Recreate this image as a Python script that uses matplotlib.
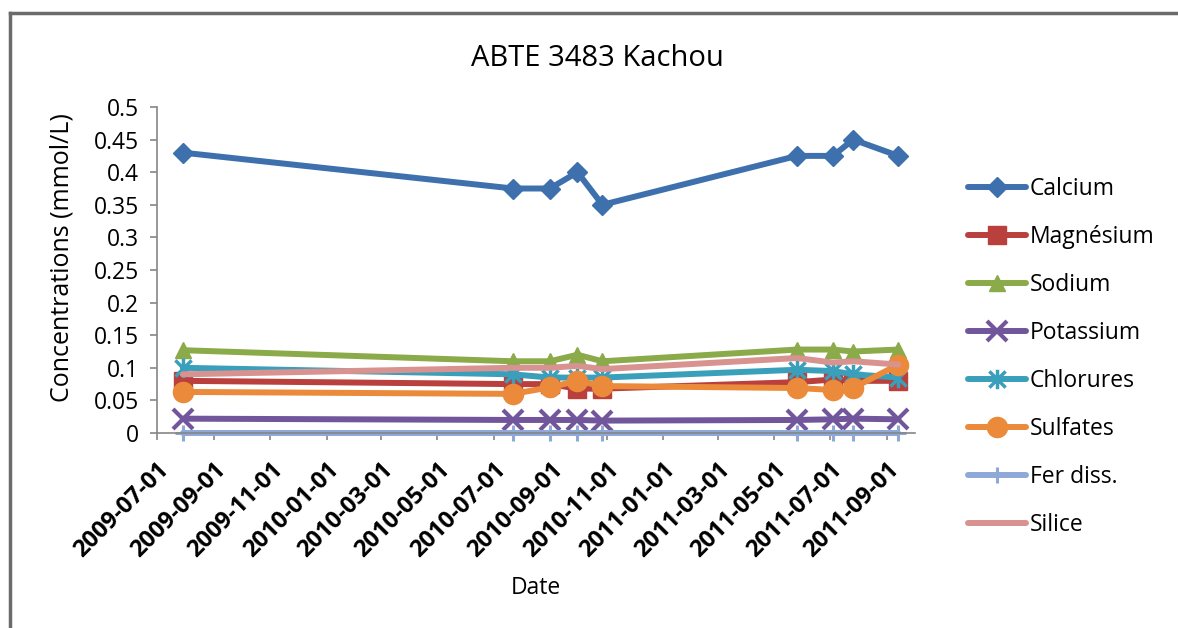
import matplotlib
matplotlib.use("Agg")
import matplotlib.pyplot as plt
from matplotlib.path import Path
import datetime as dt

# ---------------- data ----------------
dates = ["2009-07-29", "2010-07-22", "2010-08-31", "2010-09-30", "2010-10-27",
         "2011-05-26", "2011-07-04", "2011-07-26", "2011-09-13"]
calcium   = [0.430, 0.375, 0.375, 0.400, 0.350, 0.425, 0.425, 0.450, 0.425]
magnesium = [0.080, 0.075, 0.075, 0.068, 0.068, 0.078, 0.082, 0.080, 0.080]
sodium    = [0.127, 0.110, 0.110, 0.120, 0.110, 0.128, 0.128, 0.125, 0.128]
potassium = [0.022, 0.020, 0.020, 0.020, 0.019, 0.020, 0.021, 0.022, 0.021]
chlorures = [0.100, 0.090, 0.085, 0.085, 0.085, 0.097, 0.095, 0.090, 0.085]
sulfates  = [0.063, 0.060, 0.070, 0.080, 0.072, 0.069, 0.066, 0.069, 0.105]
fer_diss  = [0.000, 0.000, 0.000, 0.000, 0.000, 0.000, 0.000, 0.000, 0.000]
silice    = [0.090, 0.100, 0.100, 0.103, 0.098, 0.115, 0.108, 0.110, 0.105]

series_names = ["Calcium", "Magnésium", "Sodium", "Potassium",
                "Chlorures", "Sulfates", "Fer diss.", "Silice"]
tick_labels = ["2009-07-01", "2009-09-01", "2009-11-01", "2010-01-01", "2010-03-01",
               "2010-05-01", "2010-07-01", "2010-09-01", "2010-11-01", "2011-01-01",
               "2011-03-01", "2011-05-01", "2011-07-01", "2011-09-01"]
y_ticks = [0, 0.05, 0.1, 0.15, 0.2, 0.25, 0.3, 0.35, 0.4, 0.45, 0.5]
y_tick_labels = ["0", "0.05", "0.1", "0.15", "0.2", "0.25", "0.3", "0.35", "0.4", "0.45", "0.5"]

# ---------------- style ----------------
FONT = ["Open Sans", "DejaVu Sans"]
plt.rcParams["font.family"] = FONT

W, H = 1178, 628
fig = plt.figure(figsize=(W / 100, H / 100), dpi=100)

def fx(px):
    return px / W

def fy(py):
    return 1 - py / H

# plot area
x0, x1, ytop, ybot = 157, 915, 107, 433
ax = fig.add_axes([fx(x0), fy(ybot), fx(x1) - fx(x0), fy(ytop) - fy(ybot)])

xd = [dt.datetime.strptime(d, "%Y-%m-%d") for d in dates]

# asterisk marker: X + vertical bar
ast_verts = [(-0.5, -0.5), (0.5, 0.5), (-0.5, 0.5), (0.5, -0.5), (0, -0.6), (0, 0.6)]
ast_codes = [Path.MOVETO, Path.LINETO, Path.MOVETO, Path.LINETO, Path.MOVETO, Path.LINETO]
asterisk = Path(ast_verts, ast_codes)

values = [calcium, magnesium, sodium, potassium, chlorures, sulfates, fer_diss, silice]
colors = ["#3E70AE", "#B9403C", "#8BAA4A", "#72569C", "#3A9FBB", "#EA8A3A", "#8EA8D8", "#D8928F"]
markers = ["D", "s", "^", "x", asterisk, "o", "+", None]
msizes = [10.5, 13, 11.5, 14, 14, 14.5, 11, 0]
mews = [1, 1, 1, 3, 2.5, 1, 2.2, 1]

for name, vals, c, m, ms, mew in zip(series_names, values, colors, markers, msizes, mews):
    ax.plot(xd, vals, color=c, lw=4.3, marker=m, markersize=ms,
            markeredgewidth=mew, markeredgecolor=c, markerfacecolor=c,
            label=name, clip_on=False, solid_joinstyle="round",
            solid_capstyle="round")

ax.set_xlim(dt.datetime(2009, 7, 1), dt.datetime(2011, 10, 1))
ax.set_ylim(0, 0.5)

tick_dates = [dt.datetime.strptime(t, "%Y-%m-%d") for t in tick_labels]
ax.set_xticks(tick_dates)
ax.set_xticklabels(tick_labels, rotation=45, ha="right", va="top",
                   rotation_mode="anchor", fontsize=17, fontweight="bold")
ax.set_yticks(y_ticks)
ax.set_yticklabels(y_tick_labels, fontsize=16.5)

for s in ["top", "right"]:
    ax.spines[s].set_visible(False)
for s in ["left", "bottom"]:
    ax.spines[s].set_color("#868686")
    ax.spines[s].set_linewidth(1.2)
ax.tick_params(axis="both", direction="out", length=5, width=1.2, color="#868686")
ax.tick_params(axis="y", pad=8)
ax.tick_params(axis="x", pad=13)

# titles / labels
fig.text(fx(597), fy(58), "ABTE 3483 Kachou", ha="center", va="center", fontsize=21)
fig.text(fx(62), fy(258), "Concentrations (mmol/L)", rotation=90, ha="center",
         va="center", fontsize=18)
fig.text(fx(536), fy(588), "Date", ha="center", va="center", fontsize=16.5)

# legend
fig.legend(loc="upper left", bbox_to_anchor=(fx(968), fy(177)), frameon=False,
           fontsize=16.5, handlelength=2.55, handletextpad=0.15, labelspacing=1.05,
           borderpad=0, borderaxespad=0)

# outer frame (left and top edges visible)
fig.add_artist(plt.Line2D([fx(10), fx(10)], [fy(13), 0], color="#6b6b6b", lw=2.5,
                          transform=fig.transFigure))
fig.add_artist(plt.Line2D([fx(10), 1], [fy(13), fy(13)], color="#6b6b6b", lw=2.5,
                          transform=fig.transFigure))

fig.savefig("out.png", dpi=100, facecolor="white")
